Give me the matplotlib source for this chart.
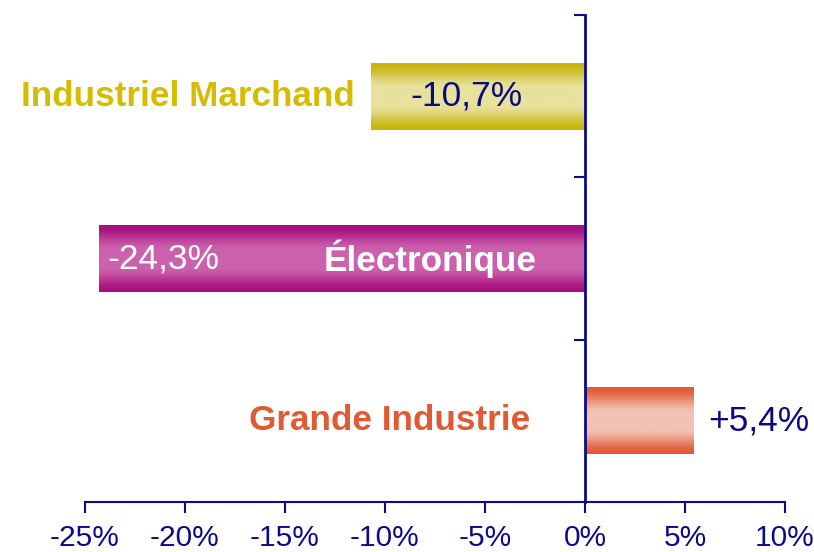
import matplotlib.pyplot as plt
import numpy as np
from matplotlib.colors import LinearSegmentedColormap

plt.rcParams['font.family'] = ['Liberation Sans', 'DejaVu Sans']

categories = ['Grande Industrie', 'Électronique', 'Industriel Marchand']
values = [5.4, -24.3, -10.7]
value_labels = ['+5,4%', '-24,3%', '-10,7%']
edge_colors = ['#DF5A36', '#A80E7C', '#C8B40C']
mid_colors = ['#F2C2B2', '#CC62AE', '#E8E29E']
name_colors = ['#E05A32', 'white', '#D6BC00']
value_colors = ['#0A0A80', 'white', '#0A0A80']
xticks = [-25, -20, -15, -10, -5, 0, 5, 10]

navy = '#0A0A8A'

fig = plt.figure(figsize=(8.14, 5.52), dpi=100)
ax = fig.add_axes([0.1044, 0.0906, 0.86, 0.882])

pos = np.arange(len(categories)) + 0.5
bars = ax.barh(pos, values, height=0.41, color='none', edgecolor='none')

# vertical gradient inside every bar: dark edges, light middle
t = np.linspace(0, 1, 200)
g = np.clip((1 - np.abs(t - 0.5) * 2) * 1.3, 0, 1)
grad = (g * g * (3 - 2 * g))[:, None]
for bar, c0, c1 in zip(bars, edge_colors, mid_colors):
    cmap = LinearSegmentedColormap.from_list('g', [c0, c1])
    x0, y0 = bar.get_x(), bar.get_y()
    w, h = bar.get_width(), bar.get_height()
    ax.imshow(grad, cmap=cmap, aspect='auto', interpolation='bicubic',
              extent=[x0, x0 + w, y0, y0 + h], zorder=2)

fs_name = 25.3
fs_val = 25.5

# category names and values
ax.text(-2.75, pos[0], categories[0], ha='right', va='center',
        fontsize=fs_name, fontweight='bold', color=name_colors[0], zorder=3)
ax.text(values[0] + 0.75, pos[0], value_labels[0], ha='left', va='center',
        fontsize=fs_val, color=value_colors[0], zorder=3)

ax.text(-2.4, pos[1], categories[1], ha='right', va='center',
        fontsize=fs_name, fontweight='bold', color=name_colors[1], zorder=3)
ax.text(values[1] + 0.4, pos[1], value_labels[1], ha='left', va='center',
        fontsize=fs_val, color=value_colors[1], zorder=3)

ax.text(values[2] - 0.8, pos[2], categories[2], ha='right', va='center',
        fontsize=fs_name, fontweight='bold', color=name_colors[2], zorder=3)
ax.text(values[2] / 2 - 0.6, pos[2], value_labels[2], ha='center', va='center',
        fontsize=fs_val, color=value_colors[2], zorder=3)

ax.set_xlim(-25, 10)
ax.set_ylim(0, 3)
ax.set_xticks(xticks)
ax.set_xticklabels([f'{v}%' for v in xticks])
ax.set_yticks([1, 2, 3])
ax.set_yticklabels([])

for s in ['top', 'right']:
    ax.spines[s].set_visible(False)
ax.spines['left'].set_position(('data', 0))
ax.spines['left'].set_color(navy)
ax.spines['left'].set_linewidth(2)
ax.spines['left'].set_zorder(4)
ax.spines['bottom'].set_color(navy)
ax.spines['bottom'].set_linewidth(1.5)

ax.tick_params(axis='x', colors=navy, labelsize=21.5, length=8, width=1.5, pad=8)
ax.tick_params(axis='y', colors=navy, length=8, width=1.5, direction='out')

fig.savefig('out.png', dpi=100)
